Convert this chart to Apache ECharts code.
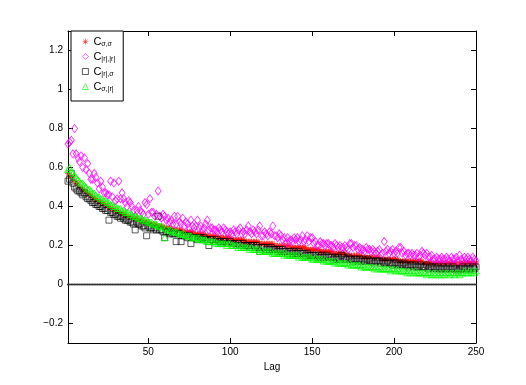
<!DOCTYPE html>
<html>
<head>
<meta charset="utf-8">
<script src="https://cdn.jsdelivr.net/npm/echarts@6/dist/echarts.min.js"></script>
<style>html,body{margin:0;padding:0;background:#fff}#c{width:526px;height:385px}</style>
</head>
<body>
<div id="c"></div>
<script>
// Lags 1..250
var lagCount = 250;
var xTicks = [50, 100, 150, 200, 250];
var yTicks = [-0.2, 0, 0.2, 0.4, 0.6, 0.8, 1, 1.2];
var zeroLevel = 0;

// C sigma,sigma (red asterisks)
var cSigSig = [
.57,.56,.55,.55,.53,.52,.52,.50,.50,.49,
.48,.48,.47,.46,.46,.45,.44,.44,.43,.43,
.42,.42,.41,.41,.40,.40,.39,.39,.38,.38,
.38,.37,.37,.36,.36,.36,.35,.35,.35,.34,
.34,.34,.34,.33,.33,.33,.32,.32,.32,.32,
.31,.31,.31,.31,.30,.30,.30,.30,.30,.29,
.29,.29,.29,.29,.28,.28,.28,.28,.28,.28,
.27,.27,.27,.27,.27,.27,.27,.26,.26,.26,
.26,.26,.26,.26,.25,.25,.25,.25,.25,.25,
.25,.25,.24,.24,.24,.24,.24,.24,.24,.24,
.23,.23,.23,.23,.23,.23,.23,.23,.22,.22,
.22,.22,.22,.22,.22,.22,.22,.21,.21,.21,
.21,.21,.21,.21,.21,.21,.20,.20,.20,.20,
.20,.20,.20,.20,.20,.20,.19,.19,.19,.19,
.19,.19,.19,.19,.19,.19,.18,.18,.18,.18,
.18,.18,.18,.18,.17,.17,.17,.17,.17,.17,
.17,.17,.16,.16,.16,.16,.16,.16,.16,.16,
.15,.15,.15,.15,.15,.15,.15,.15,.15,.15,
.14,.14,.14,.14,.14,.14,.14,.14,.14,.14,
.14,.13,.13,.13,.13,.13,.13,.13,.13,.13,
.13,.13,.12,.12,.12,.12,.12,.12,.12,.12,
.12,.12,.12,.12,.12,.12,.12,.11,.11,.11,
.11,.11,.11,.11,.11,.11,.11,.11,.11,.11,
.11,.11,.11,.11,.11,.11,.11,.11,.10,.11,
.11,.11,.11,.11,.11,.11,.11,.11,.11,.11];

// C |r|,|r| (magenta diamonds)
var cAbsAbs = [
.72,.73,.74,.67,.80,.67,.65,.63,.66,.60,
.65,.59,.62,.57,.54,.54,.57,.55,.52,.49,
.53,.50,.47,.47,.46,.46,.53,.45,.52,.43,
.44,.53,.44,.47,.44,.42,.40,.43,.42,.40,
.38,.35,.38,.40,.38,.37,.36,.42,.41,.36,
.44,.37,.37,.35,.36,.48,.35,.34,.36,.35,
.33,.34,.32,.33,.31,.35,.31,.35,.32,.31,
.34,.30,.32,.31,.29,.33,.30,.29,.30,.33,
.29,.30,.28,.29,.31,.33,.28,.29,.29,.28,
.28,.27,.29,.28,.27,.29,.28,.27,.26,.27,
.26,.28,.27,.26,.28,.29,.26,.27,.26,.28,
.30,.27,.26,.28,.27,.26,.28,.30,.25,.25,
.27,.26,.25,.27,.26,.30,.25,.25,.24,.26,
.25,.23,.24,.21,.24,.22,.23,.22,.24,.23,
.24,.22,.23,.25,.22,.23,.25,.22,.24,.24,
.21,.22,.20,.20,.22,.21,.21,.20,.21,.21,
.20,.20,.19,.21,.20,.19,.20,.19,.19,.20,
.19,.18,.21,.21,.19,.20,.20,.18,.19,.18,
.18,.17,.19,.18,.18,.17,.18,.17,.16,.17,
.18,.15,.16,.22,.17,.18,.16,.17,.18,.16,
.17,.16,.19,.19,.16,.17,.15,.16,.16,.15,
.16,.15,.15,.16,.14,.15,.17,.16,.15,.16,
.14,.14,.15,.13,.13,.14,.13,.13,.14,.13,
.13,.14,.13,.12,.14,.13,.13,.14,.12,.15,
.13,.12,.14,.13,.14,.13,.12,.14,.13,.12];

// C |r|,sigma (black squares)
var cAbsSig = [
.53,.54,.57,.52,.50,.49,.48,.48,.47,.46,
.47,.45,.44,.44,.43,.42,.42,.41,.41,.40,
.40,.39,.39,.38,.38,.33,.37,.37,.36,.36,
.35,.35,.34,.35,.34,.33,.33,.33,.32,.32,
.31,.28,.32,.31,.31,.30,.30,.29,.25,.30,
.29,.29,.28,.29,.28,.35,.28,.28,.27,.24,
.27,.27,.26,.27,.26,.26,.22,.26,.26,.22,
.25,.25,.25,.24,.25,.21,.24,.24,.24,.23,
.24,.24,.23,.24,.23,.23,.20,.23,.23,.22,
.22,.23,.22,.22,.21,.22,.22,.21,.21,.22,
.21,.21,.21,.20,.21,.20,.20,.21,.20,.20,
.20,.19,.20,.20,.19,.20,.19,.17,.19,.19,
.19,.18,.19,.18,.19,.18,.18,.18,.17,.18,
.17,.18,.17,.17,.16,.17,.17,.16,.17,.16,
.16,.17,.16,.16,.16,.15,.16,.15,.15,.15,
.15,.15,.14,.15,.14,.15,.14,.14,.15,.14,
.14,.14,.13,.14,.13,.14,.13,.15,.14,.13,
.13,.14,.13,.13,.12,.13,.13,.12,.13,.12,
.13,.12,.12,.13,.12,.12,.12,.11,.12,.12,
.12,.11,.12,.11,.11,.12,.11,.11,.10,.11,
.11,.10,.11,.10,.10,.11,.10,.10,.09,.10,
.10,.09,.10,.09,.09,.10,.09,.09,.09,.10,
.08,.09,.09,.08,.09,.08,.09,.08,.08,.09,
.08,.08,.09,.08,.08,.09,.08,.08,.07,.08,
.08,.09,.08,.08,.09,.08,.08,.09,.08,.09];

// C sigma,|r| (green triangles)
var cSigAbs = [
.59,.60,.58,.57,.56,.55,.54,.53,.52,.52,
.51,.50,.49,.49,.48,.47,.47,.46,.45,.45,
.44,.44,.43,.43,.42,.42,.41,.41,.40,.40,
.39,.39,.39,.38,.38,.37,.37,.37,.36,.36,
.35,.35,.35,.34,.34,.34,.33,.33,.33,.32,
.32,.32,.31,.31,.31,.30,.30,.30,.29,.24,
.29,.28,.28,.28,.27,.27,.27,.27,.26,.26,
.26,.26,.25,.25,.25,.25,.24,.24,.24,.24,
.24,.23,.23,.23,.23,.22,.22,.22,.22,.22,
.22,.21,.21,.21,.21,.21,.21,.20,.21,.21,
.20,.20,.20,.20,.19,.20,.19,.19,.19,.19,
.19,.18,.19,.18,.18,.18,.18,.17,.18,.17,
.17,.17,.17,.17,.17,.16,.16,.16,.16,.16,
.16,.16,.15,.16,.15,.15,.15,.15,.15,.15,
.15,.14,.15,.14,.14,.14,.14,.14,.14,.13,
.13,.14,.13,.13,.13,.13,.12,.13,.12,.12,
.12,.12,.12,.11,.12,.11,.11,.11,.11,.11,
.11,.10,.11,.10,.10,.10,.10,.10,.10,.09,
.10,.09,.09,.09,.09,.09,.09,.08,.09,.08,
.09,.08,.08,.08,.08,.08,.08,.07,.08,.08,
.07,.08,.07,.07,.07,.07,.07,.06,.07,.06,
.07,.06,.07,.06,.06,.06,.06,.06,.06,.05,
.06,.06,.05,.06,.05,.06,.05,.06,.05,.06,
.05,.06,.06,.05,.06,.06,.05,.06,.06,.05,
.06,.06,.07,.06,.06,.07,.06,.07,.06,.07];

var seriesNames = ['Css', 'Crr', 'Crs', 'Csr'];
var subscripts = {Css: 'σ,σ', Crr: '|r|,|r|', Crs: '|r|,σ', Csr: 'σ,|r|'};

var lags = [];
for (var i = 1; i <= lagCount; i++) lags.push(i);
function pairs(arr) { return arr.map(function (v, i) { return [lags[i], v]; }); }

var asterisk = 'path://M-0.5,-5H0.5V5H-0.5Z M-5,-0.5H5V0.5H-5Z M-3.89,-3.18L-3.18,-3.89L3.89,3.18L3.18,3.89Z M3.18,-3.89L3.89,-3.18L-3.18,3.89L-3.89,3.18Z';
var FONT = '"Liberation Sans", Arial, Helvetica, sans-serif';

var chart = echarts.init(document.getElementById('c'), null, {renderer: 'canvas'});
function axisLineStyle() {
  return {show: true, onZero: false, lineStyle: {color: '#000', width: 1}};
}
chart.setOption({
  backgroundColor: '#fff',
  animation: false,
  grid: {left: 68, right: 50, top: 31, bottom: 42, containLabel: false},
  legend: {
    orient: 'vertical', left: 71, top: 31,
    padding: [5, 8, 8, 11], itemGap: 3, itemWidth: 6, itemHeight: 6,
    itemStyle: {borderWidth: 0.8},
    backgroundColor: '#fff', borderColor: '#000', borderWidth: 1,
    data: seriesNames,
    formatter: function (n) { return '{c|C}{s|' + subscripts[n] + '}'; },
    textStyle: {
      fontFamily: FONT, color: '#000',
      rich: {
        c: {fontSize: 11, lineHeight: 13, fontFamily: FONT, color: '#000'},
        s: {fontSize: 7, lineHeight: 8, verticalAlign: 'bottom', fontFamily: FONT, color: '#000'}
      }
    }
  },
  xAxis: [
    {
      type: 'value', min: 1, max: lagCount, position: 'bottom',
      axisLine: axisLineStyle(), splitLine: {show: false},
      name: 'Lag', nameLocation: 'middle', nameGap: 18,
      nameTextStyle: {fontFamily: FONT, fontSize: 10, color: '#000'},
      axisTick: {show: true, inside: true, length: 5, customValues: xTicks, lineStyle: {color: '#000'}},
      axisLabel: {show: true, customValues: xTicks, fontFamily: FONT, fontSize: 10, color: '#000', margin: 4}
    },
    {
      type: 'value', min: 1, max: lagCount, position: 'top',
      axisLine: axisLineStyle(), splitLine: {show: false},
      axisTick: {show: true, inside: true, length: 5, customValues: xTicks, lineStyle: {color: '#000'}},
      axisLabel: {show: false}
    }
  ],
  yAxis: [
    {
      type: 'value', min: -0.3, max: 1.3, position: 'left',
      axisLine: axisLineStyle(), splitLine: {show: false},
      axisTick: {show: true, inside: true, length: 5, customValues: yTicks, lineStyle: {color: '#000'}},
      axisLabel: {show: true, customValues: yTicks, fontFamily: FONT, fontSize: 10, color: '#000', margin: 5,
        formatter: function (v) { return v < 0 ? '\u2212' + Math.abs(v) : String(v); }}
    },
    {
      type: 'value', min: -0.3, max: 1.3, position: 'right',
      axisLine: axisLineStyle(), splitLine: {show: false},
      axisTick: {show: true, inside: true, length: 5, customValues: yTicks, lineStyle: {color: '#000'}},
      axisLabel: {show: false}
    }
  ],
  series: [
    {
      type: 'line', name: 'zero', data: lags.map(function (l) { return [l, zeroLevel]; }),
      symbol: 'circle', symbolSize: 2.2, showSymbol: true, showAllSymbol: true,
      lineStyle: {color: '#000', width: 1}, itemStyle: {color: '#333'}, silent: true, z: 1
    },
    {
      type: 'scatter', name: 'Css', data: pairs(cSigSig), symbol: asterisk, symbolSize: 6,
      itemStyle: {color: '#ff0000'}
    },
    {
      type: 'scatter', name: 'Crr', data: pairs(cAbsAbs), symbol: 'diamond', symbolSize: [6, 8],
      itemStyle: {color: 'rgba(0,0,0,0)', borderColor: '#ff00ff', borderWidth: 0.9}
    },
    {
      type: 'scatter', name: 'Crs', data: pairs(cAbsSig), symbol: 'rect', symbolSize: 6,
      itemStyle: {color: 'rgba(0,0,0,0)', borderColor: '#000000', borderWidth: 0.8}
    },
    {
      type: 'scatter', name: 'Csr', data: pairs(cSigAbs), symbol: 'triangle', symbolSize: [7, 6],
      itemStyle: {color: 'rgba(0,0,0,0)', borderColor: '#00ff00', borderWidth: 0.9}
    }
  ]
});
</script>
</body>
</html>
